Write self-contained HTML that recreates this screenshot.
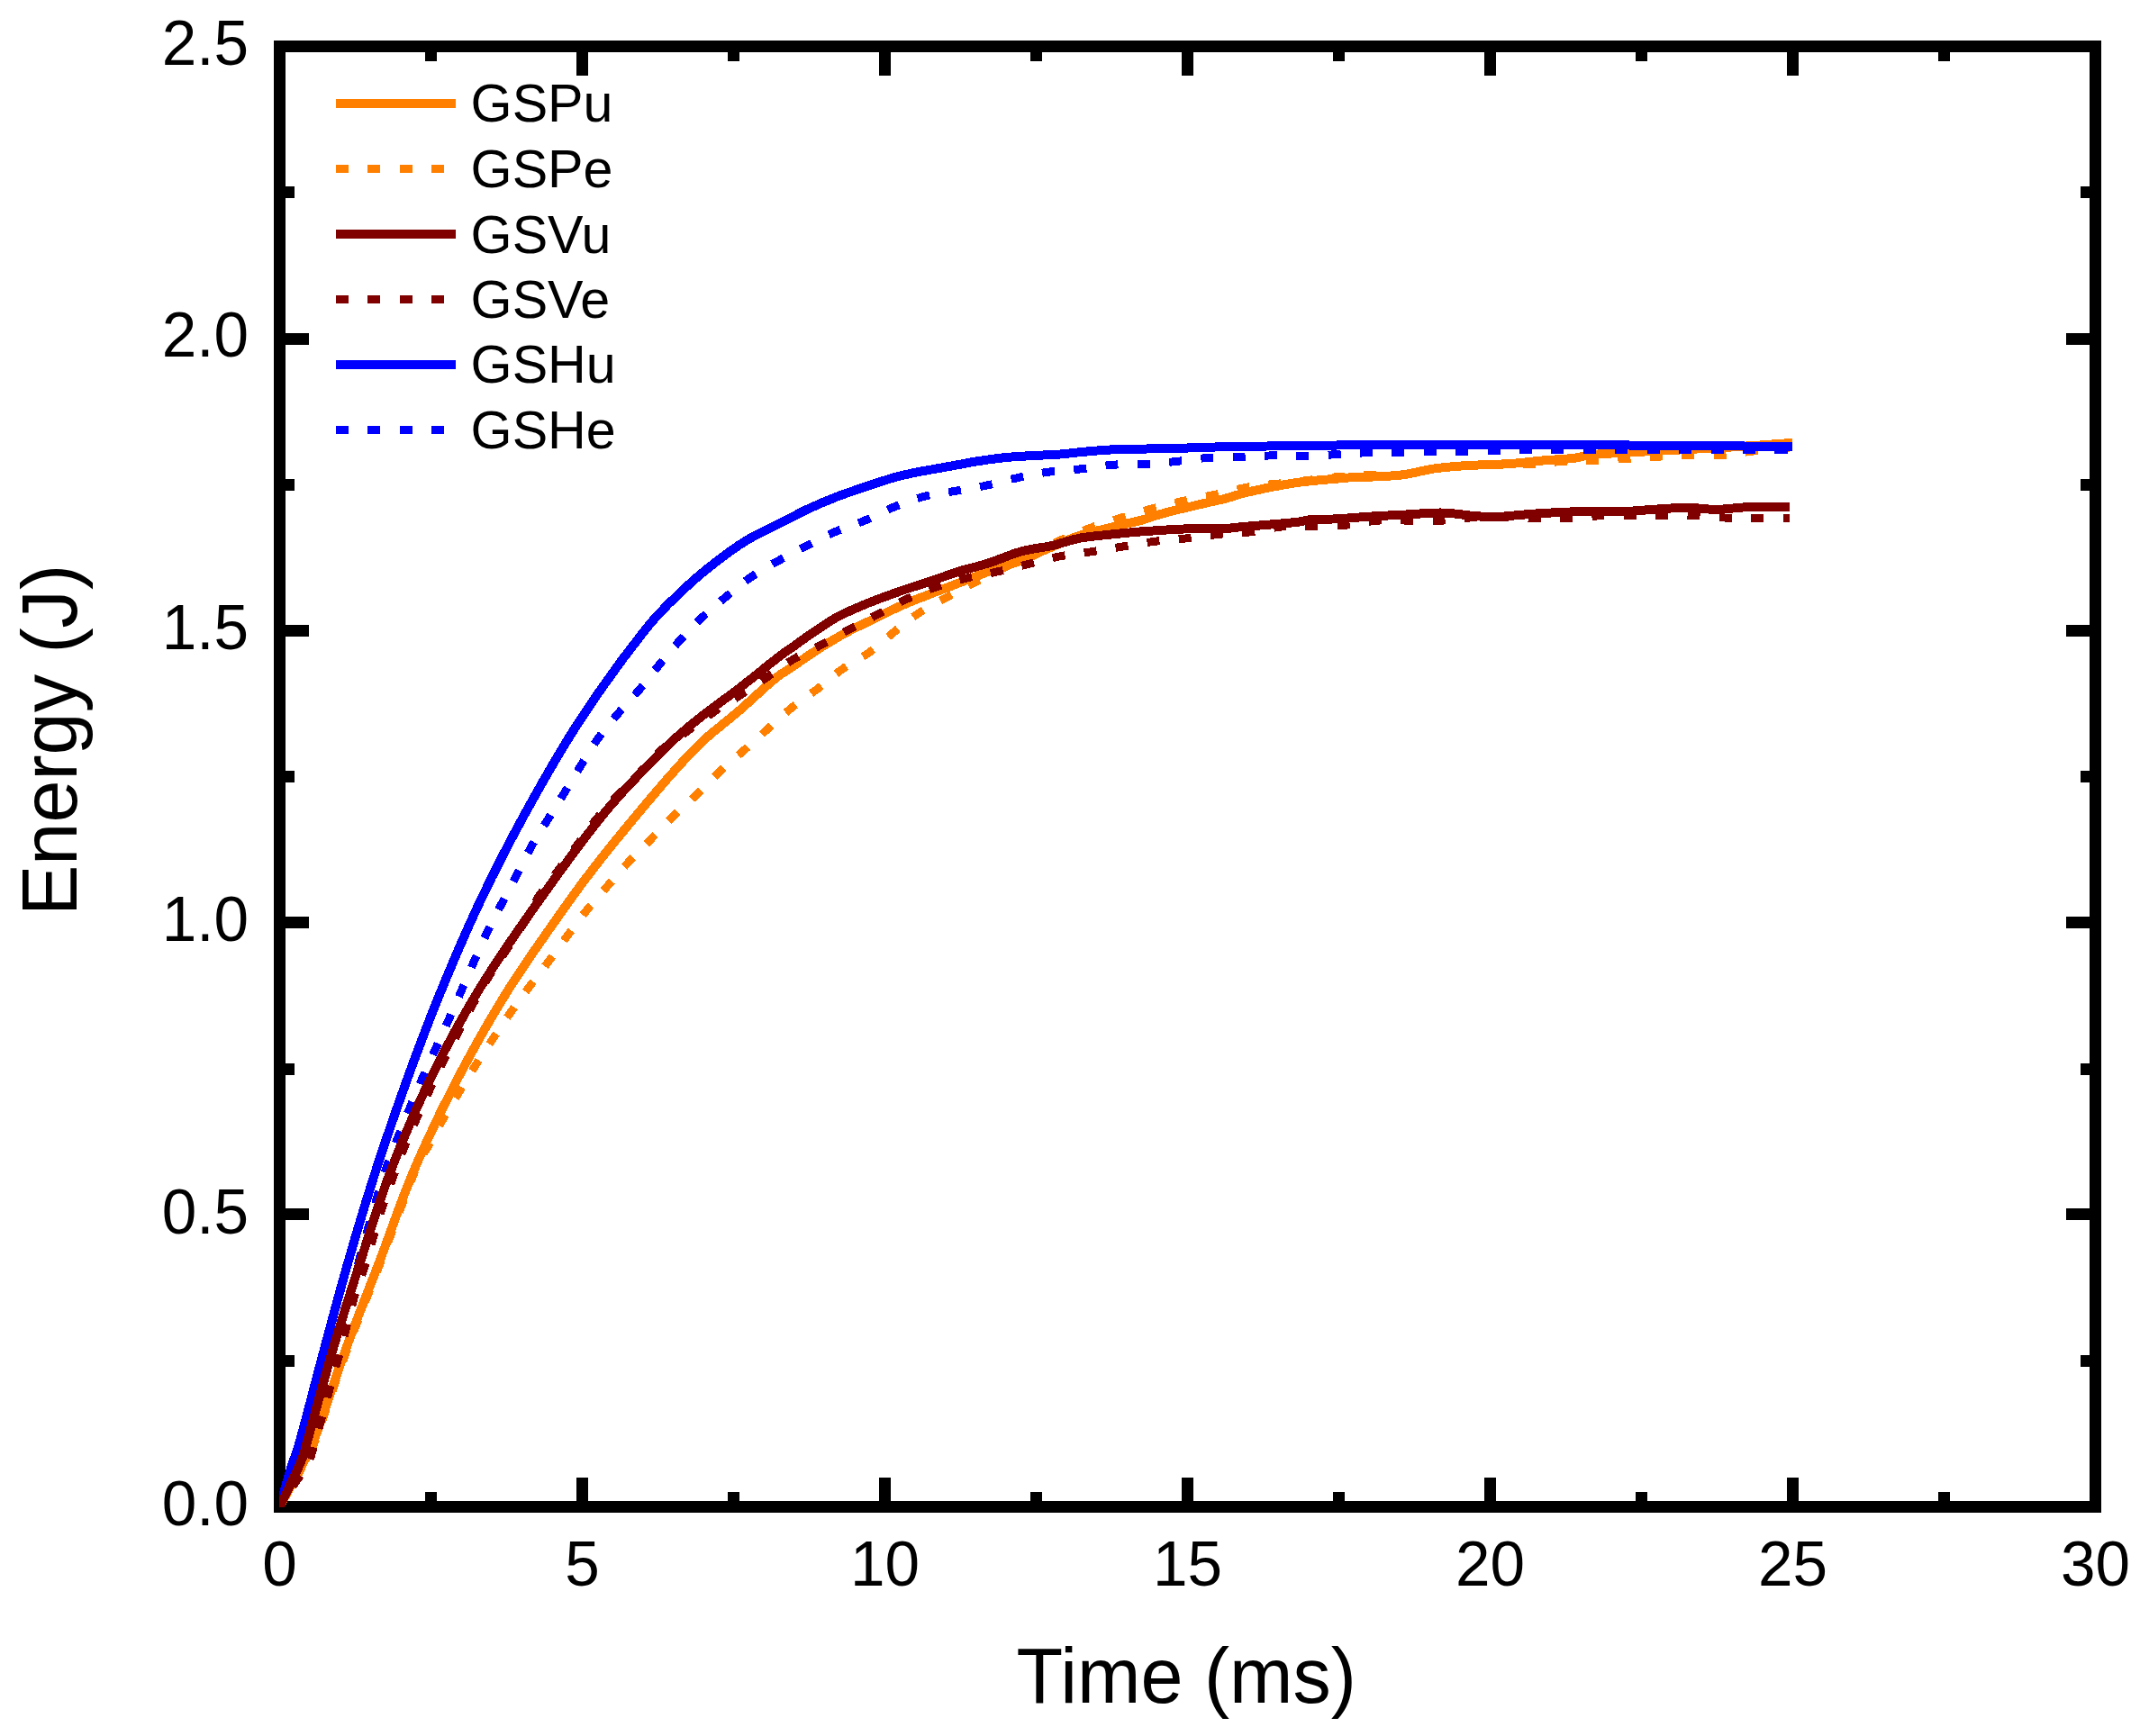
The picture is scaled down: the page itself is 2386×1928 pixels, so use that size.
<!DOCTYPE html>
<html lang="en">
<head>
<meta charset="utf-8">
<title>Energy vs Time</title>
<style>
html,body{margin:0;padding:0;background:#fff;}
body{width:2386px;height:1928px;overflow:hidden;}
svg{display:block;}
text{font-family:"Liberation Sans",Arial,Helvetica,sans-serif;fill:#000;}
.tick{font-size:69.3px;}
.title{font-size:84.6px;}
.leg{font-size:59.2px;}
</style>
</head>
<body>
<svg width="2386" height="1928" viewBox="0 0 2386 1928">
<rect x="0" y="0" width="2386" height="1928" fill="#fff"/>
<g fill="#000" shape-rendering="crispEdges">
<rect x="304" y="45" width="2029" height="13"/>
<rect x="304" y="1667" width="2029" height="13"/>
<rect x="304" y="45" width="13" height="1635"/>
<rect x="2320" y="45" width="13" height="1635"/>
<rect x="472" y="1657" width="13" height="10"/><rect x="472" y="58" width="13" height="10"/>
<rect x="640" y="1641" width="13" height="26"/><rect x="640" y="58" width="13" height="26"/>
<rect x="808" y="1657" width="13" height="10"/><rect x="808" y="58" width="13" height="10"/>
<rect x="976" y="1641" width="13" height="26"/><rect x="976" y="58" width="13" height="26"/>
<rect x="1144" y="1657" width="13" height="10"/><rect x="1144" y="58" width="13" height="10"/>
<rect x="1312" y="1641" width="13" height="26"/><rect x="1312" y="58" width="13" height="26"/>
<rect x="1480" y="1657" width="13" height="10"/><rect x="1480" y="58" width="13" height="10"/>
<rect x="1648" y="1641" width="13" height="26"/><rect x="1648" y="58" width="13" height="26"/>
<rect x="1816" y="1657" width="13" height="10"/><rect x="1816" y="58" width="13" height="10"/>
<rect x="1984" y="1641" width="13" height="26"/><rect x="1984" y="58" width="13" height="26"/>
<rect x="2152" y="1657" width="13" height="10"/><rect x="2152" y="58" width="13" height="10"/>
<rect x="317" y="1505" width="10" height="13"/><rect x="2310" y="1505" width="10" height="13"/>
<rect x="317" y="1342" width="26" height="13"/><rect x="2294" y="1342" width="26" height="13"/>
<rect x="317" y="1181" width="10" height="13"/><rect x="2310" y="1181" width="10" height="13"/>
<rect x="317" y="1018" width="26" height="13"/><rect x="2294" y="1018" width="26" height="13"/>
<rect x="317" y="856" width="10" height="13"/><rect x="2310" y="856" width="10" height="13"/>
<rect x="317" y="694" width="26" height="13"/><rect x="2294" y="694" width="26" height="13"/>
<rect x="317" y="532" width="10" height="13"/><rect x="2310" y="532" width="10" height="13"/>
<rect x="317" y="370" width="26" height="13"/><rect x="2294" y="370" width="26" height="13"/>
<rect x="317" y="207" width="10" height="13"/><rect x="2310" y="207" width="10" height="13"/>
</g>
<defs><clipPath id="plotclip"><rect x="310" y="51" width="2017" height="1623"/></clipPath></defs>
<g fill="none" stroke-linejoin="round" shape-rendering="crispEdges" clip-path="url(#plotclip)">
<path d="M306.7 1680.5C307.3 1679.4 305.6 1682.6 310.5 1673.5C315.4 1664.4 329.7 1638.2 336.0 1626.0C342.3 1613.8 340.6 1621.0 348.5 1600.0C356.4 1579.0 371.2 1533.3 383.4 1500.0C395.6 1466.7 409.0 1433.3 421.7 1400.0C434.4 1366.7 445.3 1333.3 459.5 1300.0C473.7 1266.7 489.6 1233.3 507.0 1200.0C524.4 1166.7 543.0 1133.3 563.9 1100.0C584.8 1066.7 614.8 1025.0 632.5 1000.0C650.2 975.0 656.9 967.0 670.0 950.3C683.1 933.6 698.4 915.4 711.2 900.0C724.1 884.6 735.6 870.8 747.1 858.0C758.6 845.2 768.1 834.5 780.2 823.1C792.4 811.8 806.7 801.4 820.0 789.9C833.3 778.4 849.9 762.4 859.9 754.2C869.9 746.0 873.3 745.1 880.0 740.5C886.7 735.9 890.8 732.5 900.0 726.5C909.2 720.5 923.9 711.2 935.3 704.8C946.7 698.4 957.4 693.6 968.5 688.2C979.6 682.8 990.6 677.1 1001.7 672.2C1012.8 667.3 1023.9 663.2 1034.9 658.9C1046.0 654.6 1060.5 649.1 1068.0 646.2C1075.5 643.3 1074.6 643.7 1080.0 641.6C1085.4 639.5 1091.5 636.7 1100.5 633.5C1109.5 630.3 1122.8 626.6 1134.0 622.3C1145.2 618.0 1156.3 612.2 1167.5 607.5C1178.7 602.8 1189.8 597.6 1201.0 594.0C1212.2 590.4 1223.3 588.4 1234.5 585.6C1245.7 582.9 1260.4 579.5 1268.0 577.5C1275.6 575.5 1274.4 575.2 1280.0 573.5C1285.6 571.8 1292.4 569.8 1301.6 567.5C1310.8 565.2 1325.4 561.8 1335.1 559.5C1344.8 557.2 1352.5 555.7 1360.0 553.8C1367.5 551.9 1372.2 549.9 1380.0 547.9C1387.8 545.9 1396.9 543.9 1407.0 541.9C1417.1 539.9 1428.3 537.5 1440.5 535.9C1452.7 534.2 1468.8 533.0 1480.0 532.0C1491.2 531.0 1500.1 530.1 1507.5 529.7C1514.9 529.3 1515.9 529.9 1524.3 529.5C1532.7 529.1 1546.6 528.8 1557.8 527.3C1569.0 525.8 1580.1 522.3 1591.3 520.6C1602.5 518.9 1613.6 518.1 1624.8 517.3C1636.0 516.5 1649.1 516.3 1658.3 515.9C1667.5 515.5 1670.8 515.5 1680.0 514.8C1689.2 514.0 1702.3 512.4 1713.5 511.4C1724.7 510.4 1738.6 509.9 1747.0 508.9C1755.4 507.9 1755.4 506.5 1763.8 505.5C1772.2 504.5 1769.4 504.6 1797.3 503.0C1825.2 501.4 1898.9 497.9 1931.0 496.0C1963.1 494.1 1980.2 492.5 1990.0 491.8" stroke="#FF8000" stroke-width="10"/>
<path d="M310.5 1673.5C315.0 1665.6 330.9 1638.2 337.5 1626.0C344.1 1613.8 342.1 1621.0 350.0 1600.0C357.9 1579.0 372.7 1533.3 384.9 1500.0C397.1 1466.7 410.5 1433.3 423.2 1400.0C435.9 1366.7 452.3 1321.2 461.0 1300.0C469.7 1278.8 470.4 1282.4 475.5 1273.0C480.6 1263.6 485.7 1253.8 491.4 1243.7C497.1 1233.7 503.7 1222.9 509.8 1212.7C516.0 1202.5 522.0 1192.5 528.3 1182.6C534.6 1172.7 541.0 1163.0 547.5 1153.2C554.0 1143.4 560.5 1133.5 567.3 1123.9C574.1 1114.3 581.1 1104.8 588.1 1095.4C595.1 1086.0 602.4 1076.8 609.5 1067.3C616.6 1057.8 623.5 1048.0 630.5 1038.5C637.5 1029.0 644.4 1019.7 651.8 1010.5C659.2 1001.3 667.4 992.2 675.1 983.3C682.8 974.4 690.0 965.9 698.0 957.3C706.0 948.7 714.6 940.3 722.8 931.9C731.0 923.5 739.0 914.9 747.4 906.7C755.8 898.5 764.6 891.0 773.1 882.8C781.6 874.6 789.5 865.9 798.2 857.7C806.9 849.6 816.4 841.8 825.3 833.9C834.2 826.0 842.8 818.2 851.8 810.1C860.8 802.0 870.2 793.1 879.6 785.5C889.0 777.9 899.0 771.7 908.4 764.5C917.8 757.3 926.5 749.2 936.1 742.5C945.7 735.8 955.9 731.2 965.7 724.2C975.5 717.2 985.6 707.5 994.7 700.2C1003.8 693.0 1010.7 687.1 1020.5 680.7C1030.3 674.3 1042.8 667.9 1053.6 662.0C1064.4 656.1 1074.8 650.7 1085.4 645.2C1096.0 639.8 1106.4 634.7 1117.3 629.3C1128.2 623.9 1140.0 617.8 1150.8 612.6C1161.6 607.4 1171.4 602.6 1182.0 598.0C1192.6 593.4 1203.3 588.9 1214.4 584.9C1225.5 580.9 1237.1 577.5 1248.4 574.0C1259.7 570.5 1270.8 567.1 1282.3 564.0C1293.8 560.9 1305.4 558.2 1317.1 555.6C1328.8 553.0 1341.1 551.0 1352.7 548.5C1364.3 546.0 1375.7 542.6 1386.9 540.7C1398.1 538.8 1411.1 538.0 1420.0 537.0C1428.9 536.0 1431.5 535.9 1440.5 534.9C1449.5 533.9 1462.8 531.8 1474.0 530.7C1485.2 529.6 1493.5 528.9 1507.5 528.2C1521.5 527.6 1543.8 528.1 1557.8 526.8C1571.8 525.5 1580.1 522.2 1591.3 520.6C1602.5 519.0 1613.6 518.0 1624.8 517.3C1636.0 516.6 1649.1 516.7 1658.3 516.5C1667.5 516.3 1672.5 516.2 1680.0 516.0C1687.5 515.8 1693.5 516.0 1703.5 515.3C1713.5 514.6 1728.1 512.7 1740.0 512.0C1751.9 511.3 1763.1 511.6 1774.7 511.1C1786.3 510.6 1797.9 509.8 1809.8 509.1C1821.7 508.4 1834.2 507.5 1845.9 506.9C1857.6 506.2 1868.5 505.5 1880.2 505.2C1891.9 504.9 1904.9 505.9 1915.9 505.2C1926.9 504.5 1934.3 502.2 1946.4 501.0C1958.5 499.8 1981.3 498.2 1988.3 497.7" stroke="#FF8000" stroke-width="9" stroke-dasharray="14 21.4" stroke-dashoffset="0"/>
<path d="M308.2 1681.2C308.6 1679.9 307.8 1682.7 310.5 1673.5C313.2 1664.3 320.7 1638.2 324.5 1626.0C328.3 1613.8 327.2 1621.0 333.1 1600.0C339.0 1579.0 350.6 1533.3 359.6 1500.0C368.6 1466.7 377.4 1433.3 387.0 1400.0C396.6 1366.7 406.5 1333.3 417.3 1300.0C428.1 1266.7 439.5 1233.3 451.6 1200.0C463.7 1166.7 476.2 1133.3 489.9 1100.0C503.6 1066.7 517.8 1033.3 533.6 1000.0C549.4 966.7 566.5 933.3 584.9 900.0C603.3 866.7 622.1 833.3 643.9 800.0C665.7 766.7 696.5 724.5 715.9 700.0C735.3 675.5 747.5 665.8 760.5 653.3C773.5 640.8 782.8 633.5 794.0 624.8C805.2 616.1 816.3 607.9 827.5 601.0C838.7 594.1 852.2 587.9 861.0 583.4C869.8 578.9 874.4 576.9 880.0 574.1C885.6 571.3 886.5 570.2 894.5 566.5C902.5 562.8 916.8 556.5 928.0 552.1C939.2 547.8 950.4 544.1 961.6 540.4C972.8 536.6 985.4 532.3 995.1 529.6C1004.8 526.9 1013.6 525.4 1020.0 524.1C1026.4 522.8 1025.7 523.0 1033.5 521.6C1041.3 520.2 1059.2 517.0 1067.0 515.6C1074.8 514.2 1071.6 514.4 1080.0 513.1C1088.4 511.8 1102.7 509.4 1117.3 508.0C1131.9 506.6 1157.0 505.6 1167.5 505.0C1178.0 504.4 1174.4 504.8 1180.0 504.3C1185.6 503.8 1191.9 502.8 1201.0 502.0C1210.1 501.2 1221.3 500.0 1234.5 499.4C1247.7 498.8 1268.8 498.6 1280.0 498.4C1291.2 498.2 1292.4 498.6 1301.6 498.3C1310.8 498.0 1322.0 497.2 1335.1 496.8C1348.2 496.4 1368.0 496.3 1380.0 496.1C1392.0 495.9 1391.3 495.7 1407.0 495.5C1422.7 495.3 1454.5 495.0 1474.0 494.7C1493.5 494.4 1504.8 493.9 1524.3 493.8C1543.8 493.7 1562.0 493.8 1591.3 493.8C1620.6 493.8 1676.9 493.7 1700.0 493.8C1723.1 493.9 1705.4 494.1 1730.0 494.2C1754.6 494.3 1816.8 494.5 1847.5 494.7C1878.2 494.9 1890.8 494.9 1914.5 495.2C1938.2 495.5 1977.4 496.1 1990.0 496.3" stroke="#0000FF" stroke-width="10"/>
<path d="M310.5 1673.5C314.2 1665.6 327.1 1639.5 332.5 1626.0C337.9 1612.5 339.7 1603.7 343.0 1592.5C346.3 1581.3 349.3 1570.2 352.5 1559.0C355.7 1547.8 358.9 1536.7 362.0 1525.5C365.1 1514.3 368.2 1501.7 371.0 1492.0C373.8 1482.3 376.2 1476.2 379.0 1467.5C381.8 1458.8 384.8 1451.2 388.0 1440.0C391.2 1428.8 394.7 1414.5 398.5 1400.5C402.3 1386.5 406.0 1372.9 411.0 1355.8C416.0 1338.7 423.2 1313.8 428.5 1298.0C433.8 1282.2 438.0 1272.7 442.5 1261.3C447.0 1249.9 450.9 1240.4 455.4 1229.5C459.9 1218.6 464.9 1206.9 469.6 1196.0C474.4 1185.1 479.1 1174.7 483.9 1164.1C488.7 1153.5 493.5 1143.1 498.3 1132.3C503.1 1121.5 508.0 1110.2 512.7 1099.3C517.4 1088.4 521.9 1077.8 526.6 1067.0C531.4 1056.2 536.1 1045.4 541.2 1034.8C546.3 1024.2 551.6 1014.1 557.0 1003.6C562.4 993.1 568.2 982.4 573.7 971.8C579.2 961.2 584.4 950.1 590.1 939.9C595.8 929.7 602.0 920.3 608.1 910.4C614.2 900.5 620.5 890.4 626.7 880.3C632.9 870.2 638.9 860.0 645.1 850.0C651.3 840.0 656.9 830.0 663.7 820.5C670.5 811.0 678.4 801.8 686.0 792.8C693.6 783.8 701.8 775.5 709.4 766.5C717.0 757.5 724.2 747.8 731.7 738.7C739.2 729.6 746.5 720.5 754.3 711.9C762.1 703.2 769.9 694.9 778.4 686.8C786.9 678.7 796.2 670.9 805.4 663.3C814.6 655.7 823.7 647.9 833.4 641.2C843.1 634.5 853.3 628.9 863.6 623.1C873.9 617.3 884.9 611.8 895.4 606.4C905.9 601.0 915.6 595.7 926.4 591.0C937.1 586.3 948.9 582.8 959.9 578.2C970.9 573.6 981.2 567.8 992.1 563.3C1003.0 558.8 1014.3 554.5 1025.6 551.5C1036.9 548.5 1048.2 547.5 1059.8 545.5C1071.4 543.5 1083.2 541.7 1095.0 539.2C1106.8 536.7 1118.7 533.0 1130.3 530.5C1141.9 528.0 1153.0 525.7 1164.7 524.1C1176.4 522.5 1188.6 522.1 1200.5 520.8C1212.4 519.5 1224.1 517.1 1235.9 516.2C1247.7 515.4 1259.3 516.3 1271.1 515.7C1282.9 515.1 1294.8 513.6 1306.6 512.4C1318.4 511.2 1330.1 509.2 1341.8 508.4C1353.5 507.6 1365.1 508.0 1376.9 507.6C1388.8 507.2 1401.0 506.1 1412.9 505.9C1424.8 505.7 1436.4 506.6 1448.1 506.4C1459.8 506.2 1471.4 505.3 1483.2 504.7C1495.0 504.1 1507.1 503.1 1518.9 502.7C1530.7 502.3 1542.3 502.3 1554.1 502.2C1565.9 502.1 1577.8 502.0 1589.6 501.9C1601.4 501.8 1613.1 501.6 1624.8 501.4C1636.5 501.2 1648.3 500.9 1660.0 500.5C1671.7 500.1 1680.2 499.4 1695.2 499.2C1710.2 499.0 1700.9 499.3 1750.0 499.3C1799.1 499.3 1950.0 499.3 1990.0 499.3" stroke="#0000FF" stroke-width="9" stroke-dasharray="14 21.4" stroke-dashoffset="0"/>
<path d="M307.1 1680.7C307.6 1679.5 306.2 1682.6 310.5 1673.5C314.8 1664.4 327.9 1638.2 333.0 1626.0C338.1 1613.8 335.4 1621.0 341.4 1600.0C347.4 1579.0 359.3 1533.3 369.2 1500.0C379.1 1466.7 389.7 1433.3 400.5 1400.0C411.3 1366.7 421.2 1333.3 434.0 1300.0C446.8 1266.7 460.8 1233.3 477.0 1200.0C493.2 1166.7 511.0 1133.3 531.3 1100.0C551.6 1066.7 574.9 1033.3 598.6 1000.0C622.3 966.7 649.9 928.4 673.5 900.0C697.1 871.6 723.3 846.2 740.0 829.5C756.7 812.8 759.8 811.1 773.5 800.0C787.2 788.9 807.4 774.7 822.5 763.0C837.6 751.3 854.4 737.4 864.0 730.0C873.6 722.6 874.9 722.4 880.0 718.8C885.1 715.2 886.5 713.7 894.5 708.2C902.5 702.8 916.8 692.4 928.0 686.1C939.2 679.9 950.4 675.4 961.6 670.7C972.8 666.0 985.4 661.6 995.1 658.1C1004.8 654.6 1013.6 651.9 1020.0 649.8C1026.4 647.7 1025.7 648.1 1033.5 645.4C1041.3 642.7 1059.2 636.3 1067.0 633.8C1074.8 631.3 1074.4 632.0 1080.0 630.4C1085.6 628.8 1091.5 627.4 1100.5 624.4C1109.5 621.4 1122.8 615.4 1134.0 612.4C1145.2 609.4 1159.8 607.8 1167.5 606.2C1175.2 604.6 1174.4 604.2 1180.0 602.7C1185.6 601.2 1191.9 598.8 1201.0 597.3C1210.1 595.8 1223.3 594.6 1234.5 593.4C1245.7 592.2 1260.4 590.9 1268.0 590.3C1275.6 589.6 1274.4 589.9 1280.0 589.5C1285.6 589.1 1292.4 588.6 1301.6 588.1C1310.8 587.6 1325.4 587.0 1335.1 586.8C1344.8 586.6 1352.5 587.3 1360.0 587.0C1367.5 586.7 1372.2 585.7 1380.0 585.0C1387.8 584.3 1396.9 583.7 1407.0 582.8C1417.1 581.9 1432.1 580.8 1440.5 579.8C1448.9 578.8 1450.7 577.4 1457.3 576.9C1463.9 576.4 1474.4 576.7 1480.0 576.5C1485.6 576.3 1483.4 576.4 1490.8 575.9C1498.2 575.4 1513.1 574.1 1524.3 573.4C1535.5 572.7 1545.2 572.4 1557.8 571.7C1570.4 571.1 1587.1 569.4 1599.7 569.5C1612.3 569.6 1623.4 571.8 1633.2 572.6C1643.0 573.4 1648.8 574.4 1658.3 574.2C1667.8 574.1 1680.8 572.4 1690.0 571.7C1699.2 571.0 1704.0 570.5 1713.5 570.0C1723.0 569.5 1733.0 568.7 1747.0 568.4C1761.0 568.1 1783.3 568.8 1797.3 568.4C1811.3 568.0 1818.2 567.0 1830.8 566.2C1843.4 565.4 1860.1 563.8 1872.7 563.8C1885.3 563.8 1895.0 566.0 1906.2 565.9C1917.4 565.8 1926.2 563.7 1939.7 563.3C1953.2 562.9 1979.1 563.3 1987.0 563.3" stroke="#800000" stroke-width="10"/>
<path d="M310.5 1673.5C312.4 1670.4 316.8 1662.9 322.0 1655.0C327.2 1647.1 336.8 1635.2 341.5 1626.0C346.2 1616.8 346.4 1612.7 350.1 1600.0C353.9 1587.3 359.4 1566.7 364.0 1550.0C368.6 1533.3 374.2 1513.8 377.9 1500.0C381.6 1486.2 383.8 1477.5 386.4 1467.5C389.0 1457.5 390.7 1449.3 393.5 1440.0C396.3 1430.7 399.9 1422.5 403.3 1411.7C406.8 1400.9 410.6 1387.0 414.2 1375.0C417.8 1363.0 421.1 1351.2 424.8 1340.0C428.5 1328.8 432.2 1318.8 436.1 1308.0C440.1 1297.2 444.2 1285.7 448.5 1275.0C452.8 1264.3 457.0 1254.8 461.8 1244.0C466.6 1233.2 472.2 1220.7 477.2 1210.0C482.2 1199.3 486.6 1190.0 491.6 1180.0C496.6 1170.0 501.9 1160.0 507.0 1150.0C512.1 1140.0 516.5 1130.8 522.4 1120.0C528.3 1109.2 535.2 1096.7 542.4 1085.0C549.6 1073.3 557.3 1062.5 565.5 1050.0C573.7 1037.5 586.1 1018.9 591.4 1010.0C596.7 1001.1 592.7 1003.7 597.5 996.4C602.3 989.1 612.7 976.1 620.1 966.2C627.5 956.3 635.1 946.1 641.9 936.9C648.7 927.7 653.9 919.8 661.1 910.9C668.4 902.0 677.3 891.9 685.4 883.3C693.5 874.6 701.6 867.2 709.5 859.0C717.4 850.8 724.0 841.7 732.9 833.9C741.8 826.1 753.0 819.4 763.0 812.1C773.0 804.8 783.4 797.0 793.2 790.3C803.0 783.6 812.4 778.3 822.0 772.0C831.6 765.7 841.1 759.2 851.0 752.5C860.9 745.8 870.9 738.1 881.1 732.0C891.3 725.9 901.5 721.8 912.1 716.1C922.7 710.4 934.3 703.7 944.8 698.0C955.3 692.3 964.8 687.5 975.0 682.1C985.2 676.7 995.5 670.6 1006.2 665.6C1016.9 660.6 1028.2 655.9 1039.4 651.9C1050.7 647.9 1062.2 644.8 1073.7 641.9C1085.2 639.0 1096.5 637.4 1108.1 634.7C1119.7 632.1 1131.5 628.9 1143.2 626.0C1154.9 623.1 1166.5 619.8 1178.1 617.6C1189.7 615.4 1201.1 614.4 1212.8 612.6C1224.5 610.8 1236.3 608.6 1248.0 606.7C1259.7 604.8 1271.1 602.7 1282.8 601.2C1294.5 599.7 1306.5 599.1 1318.3 597.8C1330.1 596.5 1341.9 594.5 1353.8 593.3C1365.7 592.1 1377.6 592.1 1389.4 590.7C1401.2 589.3 1412.9 585.8 1424.6 584.8C1436.3 583.8 1448.1 585.1 1459.8 584.8C1471.5 584.5 1483.3 584.2 1495.0 583.1C1506.7 582.0 1518.3 578.9 1530.2 578.1C1542.1 577.3 1554.4 578.1 1566.2 578.1C1578.0 578.1 1589.3 578.7 1601.0 578.1C1612.7 577.5 1624.4 575.3 1636.2 574.7C1648.0 574.1 1659.9 574.6 1671.7 574.7C1683.5 574.8 1695.1 575.1 1707.0 575.2C1718.9 575.3 1731.2 575.6 1743.0 575.2C1754.8 574.8 1766.3 573.2 1778.0 572.7C1789.7 572.2 1801.2 572.3 1813.0 572.2C1824.8 572.1 1837.2 572.1 1849.0 572.2C1860.8 572.3 1872.3 572.2 1884.0 572.7C1895.7 573.2 1907.3 574.8 1919.0 575.2C1930.7 575.6 1942.7 575.2 1954.0 575.2C1965.3 575.2 1981.5 575.2 1987.0 575.2" stroke="#800000" stroke-width="9" stroke-dasharray="14 21.4" stroke-dashoffset="8"/>
</g>
<g shape-rendering="crispEdges">
<rect x="373" y="110" width="133" height="10" fill="#FF8000"/>
<rect x="373" y="183" width="14" height="9" fill="#FF8000"/>
<rect x="408" y="183" width="14" height="9" fill="#FF8000"/>
<rect x="444" y="183" width="14" height="9" fill="#FF8000"/>
<rect x="479" y="183" width="14" height="9" fill="#FF8000"/>
<rect x="373" y="255" width="133" height="10" fill="#800000"/>
<rect x="373" y="328" width="14" height="9" fill="#800000"/>
<rect x="408" y="328" width="14" height="9" fill="#800000"/>
<rect x="444" y="328" width="14" height="9" fill="#800000"/>
<rect x="479" y="328" width="14" height="9" fill="#800000"/>
<rect x="373" y="400" width="133" height="10" fill="#0000FF"/>
<rect x="373" y="473" width="14" height="9" fill="#0000FF"/>
<rect x="408" y="473" width="14" height="9" fill="#0000FF"/>
<rect x="444" y="473" width="14" height="9" fill="#0000FF"/>
<rect x="479" y="473" width="14" height="9" fill="#0000FF"/>
</g>
<text class="leg" x="522.6" y="135.0">GSPu</text>
<text class="leg" x="522.6" y="208.0">GSPe</text>
<text class="leg" x="522.6" y="280.5">GSVu</text>
<text class="leg" x="522.6" y="353.0">GSVe</text>
<text class="leg" x="522.6" y="425.0">GSHu</text>
<text class="leg" x="522.6" y="498.0">GSHe</text>
<text class="tick" transform="translate(310.5,1761) scale(1,1.028)" text-anchor="middle">0</text>
<text class="tick" transform="translate(646.5,1761) scale(1,1.028)" text-anchor="middle">5</text>
<text class="tick" transform="translate(982.5,1761) scale(1,1.028)" text-anchor="middle">10</text>
<text class="tick" transform="translate(1318.5,1761) scale(1,1.028)" text-anchor="middle">15</text>
<text class="tick" transform="translate(1654.5,1761) scale(1,1.028)" text-anchor="middle">20</text>
<text class="tick" transform="translate(1990.5,1761) scale(1,1.028)" text-anchor="middle">25</text>
<text class="tick" transform="translate(2326.5,1761) scale(1,1.028)" text-anchor="middle">30</text>
<text class="tick" transform="translate(276,1693.9) scale(1,1.028)" text-anchor="end">0.0</text>
<text class="tick" transform="translate(276,1369.5) scale(1,1.028)" text-anchor="end">0.5</text>
<text class="tick" transform="translate(276,1045.1) scale(1,1.028)" text-anchor="end">1.0</text>
<text class="tick" transform="translate(276,720.7) scale(1,1.028)" text-anchor="end">1.5</text>
<text class="tick" transform="translate(276,396.3) scale(1,1.028)" text-anchor="end">2.0</text>
<text class="tick" transform="translate(276,71.9) scale(1,1.028)" text-anchor="end">2.5</text>
<text class="title" transform="translate(1317.3,1891) scale(1,1.035)" text-anchor="middle">Time (ms)</text>
<text class="title" transform="translate(84.8,822) rotate(-90) scale(1,1.035)" text-anchor="middle">Energy (J)</text>
</svg>
</body>
</html>
